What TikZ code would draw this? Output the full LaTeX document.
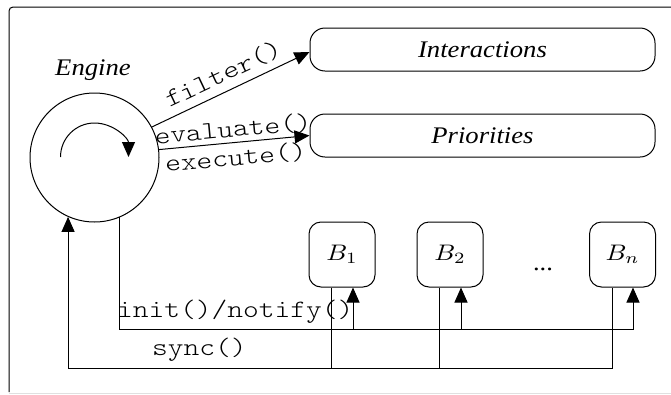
\documentclass[tikz,border=0pt]{standalone}
\usepackage[no-math]{fontspec}
\setmainfont{Liberation Serif}[FakeStretch=1.12]
\setmonofont{Latin Modern Mono Light}[FakeStretch=1.2]
\usepackage{graphicx}
\usetikzlibrary{arrows.meta,calc}
\newcommand{\bigmath}[1]{\scalebox{2.6}[2.25]{$#1$}}
\begin{document}
\begin{tikzpicture}[x=1pt,y=-1pt,line width=1pt,
  arr/.style={-{Triangle[length=15pt,width=13pt]}},
  serif/.style={font=\fontsize{23.8}{27}\selectfont\itshape,inner sep=1pt},
  mono/.style={font=\fontsize{25}{28}\selectfont\ttfamily,inner sep=1pt},
  wide/.style={draw,rounded corners=15pt,minimum width=345pt,minimum height=43pt,inner sep=0pt},
  bbox/.style={draw,rounded corners=12pt,minimum width=66pt,minimum height=65pt,inner sep=0pt}]
\useasboundingbox (0,0) rectangle (671,394);
% frame
\draw[rounded corners=4pt] (9,392) -- (9,7) -- (675,7);
\draw[black!12] (9,393) -- (671,393);
% nodes
\node[circle,draw,minimum size=129pt,inner sep=0pt] (engine) at (94.5,157.5) {};
\node[serif] (englbl) at (93,70) {Engine};
\node[wide,serif] (inter) at (482.5,49.5) {Interactions};
\node[wide,serif] (prio) at (482.5,135.5) {Priorities};
\node[bbox] (b1) at (342,254.5) {\bigmath{B_1}};
\node[bbox] (b2) at (450,254.5) {\bigmath{B_2}};
\node[bbox] (bn) at (622.5,254.5) {\bigmath{B_n}};
\node[font=\fontsize{23.6}{27}\selectfont,anchor=base,inner sep=1pt] (dots) at (543,270) {...};
% inner loop arrow
\draw[arr] (60.5,157) arc[start angle=180,end angle=360,radius=34];
% engine arrows
\draw[arr] (engine.28) -- node[mono,sloped,above=6pt,pos=0.5] (filterlbl) {filter()} ([yshift=-2.5pt]inter.west);
\draw[arr] (engine.7) -- node[mono,sloped,above=3pt,inner sep=0pt] (evallbl) {evaluate()}
  node[mono,sloped,below=5pt,inner sep=0pt] (execlbl) {execute()} (prio.west);
% coordinates
\coordinate (initlevel) at (0,329);
\coordinate (synclevel) at (0,368);
\coordinate (b1in) at ([xshift=11pt]b1.south);
\coordinate (b2in) at ([xshift=11pt]b2.south);
\coordinate (bnin) at ([xshift=10.5pt]bn.south);
\coordinate (b1out) at ([xshift=-10.5pt]b1.south);
\coordinate (b2out) at ([xshift=-11pt]b2.south);
\coordinate (bnout) at ([xshift=-10.5pt]bn.south);
% init/notify
\draw[arr] (engine.-67) -- (engine.-67 |- initlevel) -- (bnin |- initlevel) -- (bnin);
\draw[arr] (b1in |- initlevel) -- (b1in);
\draw[arr] (b2in |- initlevel) -- (b2in);
% sync
\draw[arr] (bnout) -- (bnout |- synclevel) -- (engine.-114 |- synclevel) -- (engine.-114);
\draw (b1out) -- (b1out |- synclevel);
\draw (b2out) -- (b2out |- synclevel);
% labels
\node[mono,anchor=base west,inner sep=0pt] (initlbl) at (116.5,317) {init()/notify()};
\node[mono,anchor=base west,inner sep=0pt] (synclbl) at (151.5,355) {sync()};
\end{tikzpicture}
\end{document}
